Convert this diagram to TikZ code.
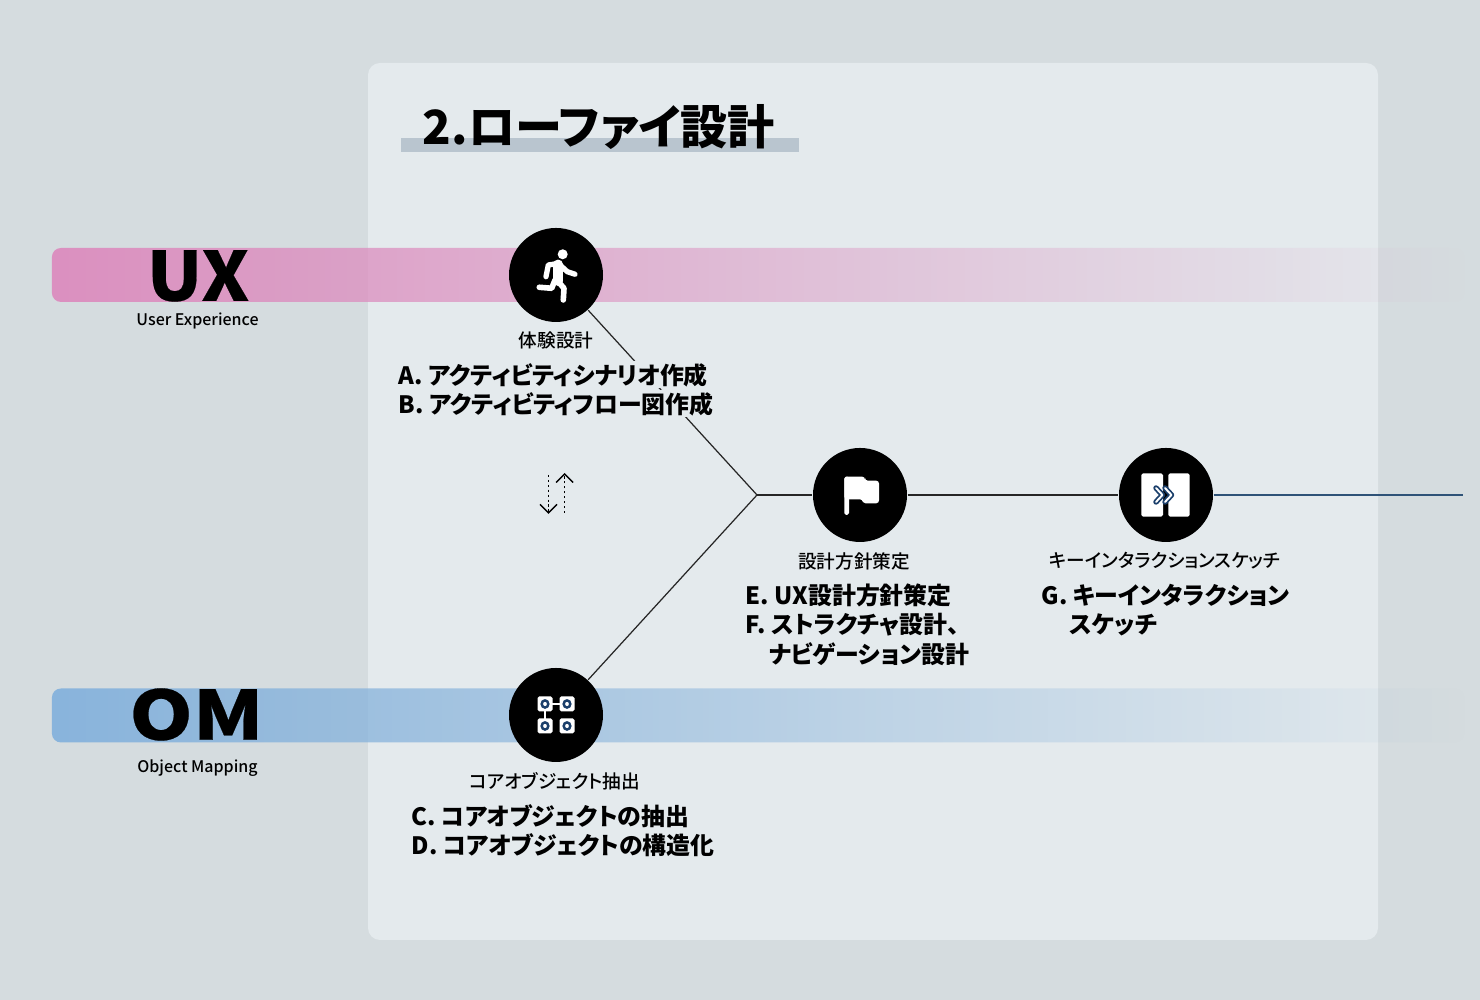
\documentclass[tikz,border=0pt]{standalone}
\usepackage{fontspec}
\setmainfont{Noto Sans CJK JP}[RawFeature={+palt}]
\newfontfamily\heavyfont{Noto Sans CJK JP Black}[FakeBold=0.3]
\newfontfamily\mediumfont{Noto Sans CJK JP Medium}[RawFeature={+palt}]
\usetikzlibrary{calc,fadings}
\definecolor{pagebg}{HTML}{D5DCDF}
\definecolor{panelbg}{HTML}{E4EAED}
\definecolor{uxpink}{HTML}{DC90C0}
\definecolor{ompblue}{HTML}{89B4DC}
\definecolor{linkblue}{HTML}{2F5378}
\definecolor{iconblue}{HTML}{1B3F6B}
\definecolor{titlebar}{HTML}{B9C5CF}
\tikzfading[name=bandfade, left color=transparent!0, right color=transparent!100]
\tikzset{
	band/.style={rounded corners=0.09cm, minimum width=14.13cm, minimum height=0.54cm, inner sep=0pt, path fading=bandfade},
	stage/.style={circle, fill=black, minimum size=0.94cm, inner sep=0pt},
	stagename/.style={font=\mediumfont\fontsize{5.3}{6}\selectfont},
	tasks/.style={font=\bfseries\fontsize{6.8}{8.35}\selectfont, align=left, anchor=west, inner sep=0pt},
	biglabel/.style={font=\heavyfont\fontsize{19.3}{20}\selectfont, inner sep=0pt, transform shape},
	sublabel/.style={font=\mediumfont\fontsize{4.55}{5}\selectfont},
	link/.style={draw=black!85, line width=0.35pt},
	tile/.style={fill=white, rounded corners=0.5pt},
	dotline/.style={line width=0.4pt, dash pattern=on 0.7pt off 0.7pt},
}
\begin{document}
\begin{tikzpicture}
	\useasboundingbox (0,0) rectangle (14.8,10);
	\fill[pagebg] (0,0) rectangle (14.8,10);
	% panel
	\fill[panelbg, rounded corners=0.12cm] (3.68,0.6) rectangle (13.78,9.37);
	% bands
	\node (uxband) [band, fill=uxpink] at (7.585,7.25) {};
	\node (omband) [band, fill=ompblue] at (7.585,2.845) {};
	% title
	\fill[titlebar] (4.01,8.48) rectangle (7.99,8.62);
	\node (title) [font=\bfseries\fontsize{13.4}{16}\selectfont, inner sep=0pt, anchor=west] at (4.22,8.73) {2.ローファイ設計};
	% stages
	\node (activity) [stage] at (5.56,7.25) {};
	\node (policy) [stage] at (8.6,5.05) {};
	\node (sketch) [stage] at (11.66,5.05) {};
	\node (object) [stage] at (5.56,2.85) {};
	\coordinate (fork) at (7.57,5.05);
	\coordinate (lineend) at (14.63,5.05);
	\draw[link](activity) to (fork);
	\draw[link](object) to (fork);
	\draw[link](fork) to (policy);
	\draw[link](policy) to (sketch);
	\draw[draw=linkblue, line width=0.35pt](sketch) to (lineend);
	% left labels
	\node (ux) [biglabel, xscale=1.07] at (1.98,7.24) {UX};
	\node (uxsub) [sublabel] at (1.975,6.79) {User Experience};
	\node (om) [biglabel, xscale=1.19] at (1.965,2.855) {OM};
	\node (omsub) [sublabel] at (1.975,2.32) {Object Mapping};
	% stage names
	\node (activityname) [stagename] at (5.56,6.6) {体験設計};
	\node (policyname) [stagename] at (8.54,4.39) {設計方針策定};
	\node (sketchname) [stagename] at (11.65,4.39) {キーインタラクションスケッチ};
	\node (objectname) [stagename] at (5.55,2.19) {コアオブジェクト抽出};
	% task lists
	\node (taska) [tasks, fill=panelbg, inner ysep=0.5pt] at (3.98,6.25) {A. アクティビティシナリオ作成};
	\node (taskb) [tasks, fill=panelbg, inner ysep=0.5pt] at (3.98,5.96) {B. アクティビティフロー図作成};
	\node (taskc) [tasks] at (4.11,1.84) {C. コアオブジェクトの抽出};
	\node (taskd) [tasks] at (4.11,1.55) {D. コアオブジェクトの構造化};
	\node (taske) [tasks] at (7.45,4.05) {E. UX設計方針策定};
	\node (taskf) [tasks] at (7.45,3.75) {F. ストラクチャ設計、};
	\node (taskf2) [tasks] at (7.68,3.46) {ナビゲーション設計};
	\node (taskg) [tasks] at (10.41,4.05) {G. キーインタラクション};
	\node (taskg2) [tasks] at (10.69,3.75) {スケッチ};
	% dotted arrows between ux and om
	\coordinate (downtop) at (5.485,5.25);
	\coordinate (downend) at (5.485,4.87);
	\coordinate (uptop) at (5.647,5.26);
	\coordinate (upend) at (5.647,4.87);
	\draw[dotline] (downtop) -- (downend);
	\draw[dotline] (upend) -- (uptop);
	\draw[line width=0.4pt] ($(downend)+(-0.085,0.085)$) -- (downend) -- ($(downend)+(0.085,0.085)$);
	\draw[line width=0.4pt] ($(uptop)+(-0.085,-0.085)$) -- (uptop) -- ($(uptop)+(0.085,-0.085)$);
	% runner icon
	\begin{scope}[shift={(activity.center)}, white, line cap=round, line join=round]
		\fill (0.067,0.207) circle (0.05);
		\draw[line width=2.8pt] (0.023,0.105) -- (0.023,-0.06);
		\draw[line width=1.5pt] (0.023,0.115) -- (-0.077,0.1) -- (-0.1,-0.017);
		\draw[line width=1.5pt] (0.04,0.1) -- (0.113,0.033) -- (0.19,0.007);
		\draw[line width=1.6pt] (0.023,-0.067) -- (0.08,-0.133) -- (0.073,-0.25);
		\draw[line width=1.6pt] (-0.01,-0.05) -- (-0.043,-0.133) -- (-0.167,-0.123);
	\end{scope}
	% flag icon
	\begin{scope}[shift={(policy.center)}, white]
		\fill[rounded corners=0.5pt] (-0.157,-0.2) rectangle (-0.11,0.183);
		\fill[rounded corners=0.8pt] (-0.157,0.183) -- (0.05,0.183) -- (0.05,0.143) -- (0.19,0.143) -- (0.19,-0.083) -- (0.027,-0.083) -- (0.027,-0.043) -- (-0.157,-0.043) -- cycle;
	\end{scope}
	% key interaction icon
	\begin{scope}[shift={(sketch.center)}]
		\fill[tile] (-0.247,-0.217) rectangle (-0.03,0.217);
		\fill[tile] (0.023,-0.217) rectangle (0.237,0.217);
		\draw[iconblue, line width=0.5pt, double=white, double distance=0.55pt, line cap=round, line join=round] (-0.1,0.07) -- (-0.035,0) -- (-0.1,-0.07);
		\draw[iconblue, line width=0.5pt, double=white, double distance=0.55pt, line cap=round, line join=round] (-0.01,0.07) -- (0.055,0) -- (-0.01,-0.07);
	\end{scope}
	% object icon
	\begin{scope}[shift={(object.center)}]
		\foreach \tx/\ty in {-0.11/0.11, 0.11/0.11, -0.11/-0.11, 0.11/-0.11} {
			\fill[tile] (\tx-0.075,\ty-0.075) rectangle (\tx+0.075,\ty+0.075);
			\draw[iconblue, line width=0.7pt] (\tx,\ty) ellipse (0.033 and 0.036);
		}
		\draw[white, line width=0.5pt] (-0.04,0.11) -- (0.04,0.11);
		\draw[white, line width=0.5pt] (-0.11,0.04) -- (-0.11,-0.04);
	\end{scope}
\end{tikzpicture}
\end{document}
